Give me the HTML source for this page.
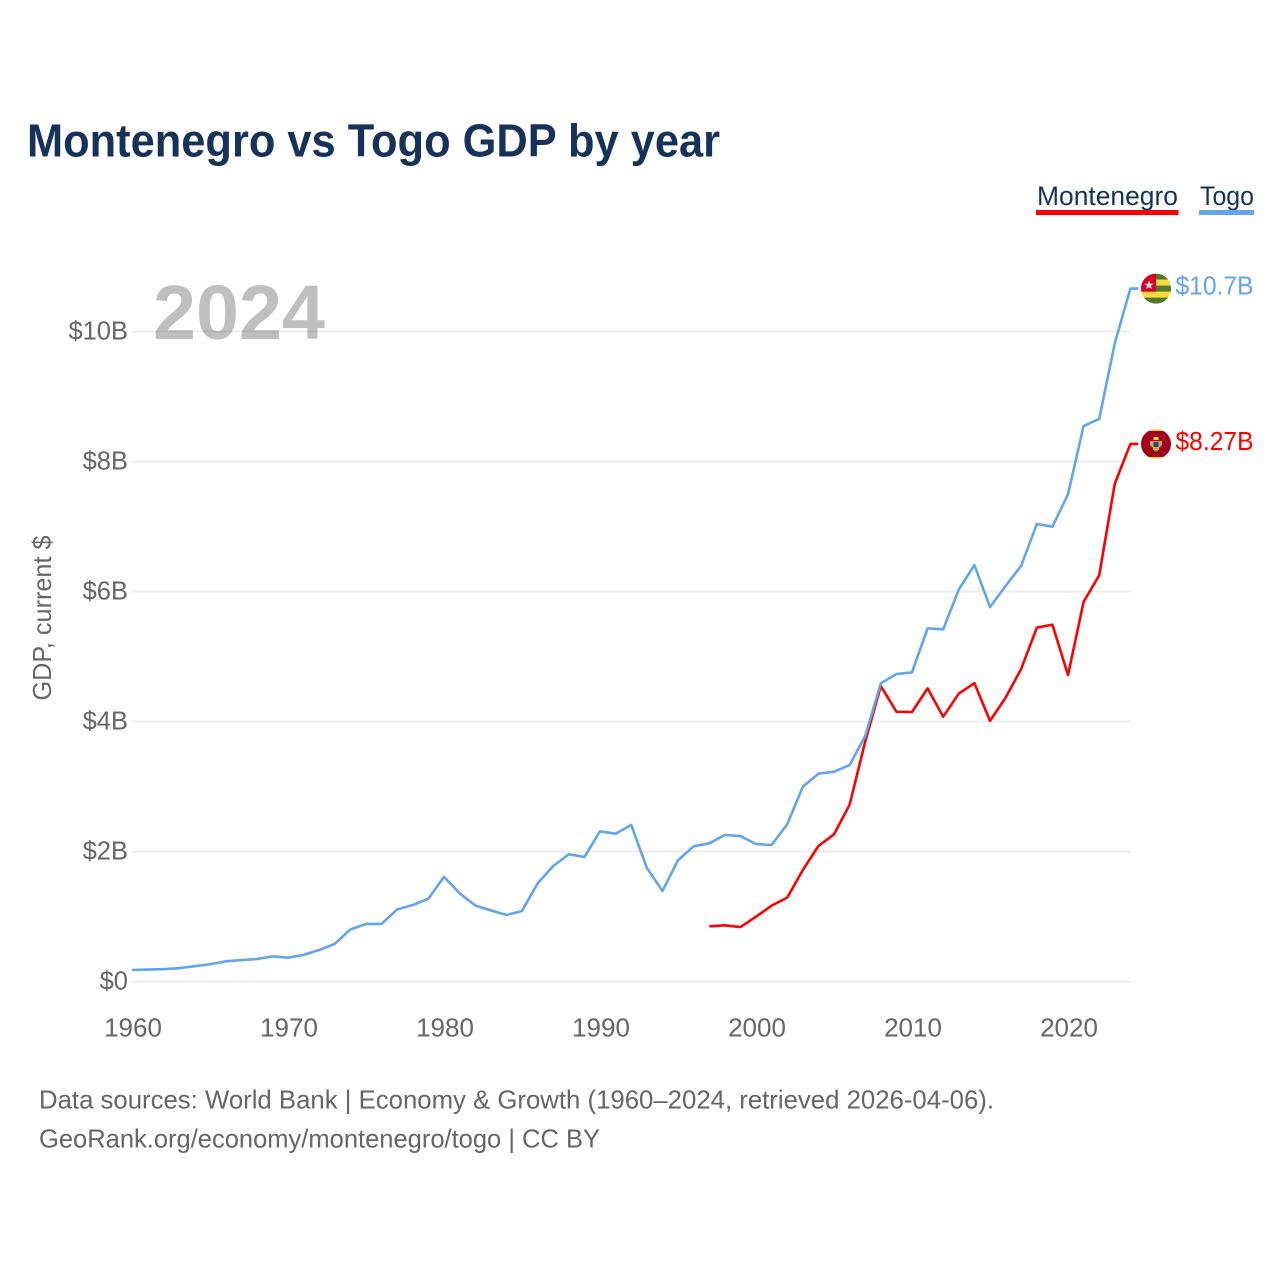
<!DOCTYPE html>
<html lang="en">
<head>
<meta charset="utf-8">
<title>Montenegro vs Togo GDP by year</title>
<style>
  html, body { margin: 0; padding: 0; background: #fff; }
  svg { display: block; }
  text { font-family: "Liberation Sans", sans-serif; }
</style>
</head>
<body>
<svg id="chart" xmlns="http://www.w3.org/2000/svg" width="1280" height="1280" viewBox="0 0 1280 1280">
  <defs>
    <clipPath id="flag-clip"><circle cx="0" cy="0" r="15"></circle></clipPath>
  </defs>
  <rect x="0" y="0" width="1280" height="1280" fill="#ffffff"></rect>

  <text x="27" y="156.5" font-size="46" font-weight="700" fill="#17325a" textLength="693" lengthAdjust="spacingAndGlyphs">Montenegro vs Togo GDP by year</text>

  <g>
    <g>
      <text x="1037" y="205" font-size="27" fill="#17325a" textLength="141" lengthAdjust="spacingAndGlyphs">Montenegro</text>
      <rect x="1036" y="210" width="142.5" height="5" fill="#ff0000"></rect>
    </g>
    <g>
      <text x="1200" y="205" font-size="27" fill="#17325a" textLength="54" lengthAdjust="spacingAndGlyphs">Togo</text>
      <rect x="1199" y="210" width="55" height="5" fill="#60a5ee"></rect>
    </g>
  </g>

  <g id="grid"></g>
  <g id="y-ticks"></g>
  <g id="x-ticks"></g>

  <text transform="translate(51,618) rotate(-90)" text-anchor="middle" font-size="26" fill="#666666" textLength="165" lengthAdjust="spacingAndGlyphs">GDP, current $</text>

  <text x="153" y="339" font-size="77" font-weight="700" fill="#000000" fill-opacity="0.25" textLength="172" lengthAdjust="spacingAndGlyphs">2024</text>

  <g id="series"></g>

  <g id="flag-togo">
    <g clip-path="url(#flag-clip)">
      <rect x="-15" y="-15" width="30" height="30" fill="#ffd83d"></rect>
      <rect x="-15" y="-15" width="30" height="6" fill="#4f7a28"></rect>
      <rect x="-15" y="-3" width="30" height="6" fill="#4f7a28"></rect>
      <rect x="-15" y="9" width="30" height="6" fill="#4f7a28"></rect>
      <rect x="-15" y="-15" width="15" height="18" fill="#d80027"></rect>
      <polygon points="-7,-8 -5.8,-4.8 -2.5,-4.8 -5.1,-2.8 -4.2,0.5 -7,-1.5 -9.8,0.5 -8.9,-2.8 -11.5,-4.8 -8.2,-4.8" fill="#f0f0f0"></polygon>
    </g>
  </g>

  <g id="flag-montenegro">
    <g clip-path="url(#flag-clip)">
      <rect x="-15" y="-15" width="30" height="30" fill="#ffda44"></rect>
      <rect x="-15" y="-13" width="30" height="26" fill="#a2001d"></rect>
      <rect x="-2.5" y="-7" width="5" height="3" fill="#ffda44"></rect>
      <polygon points="-6,-3 6,-3 6,1 3,4 3,6 -3,6 -3,4 -6,1" fill="#e8a81e"></polygon>
      <rect x="-2.5" y="-2" width="5" height="5" fill="#0052b4"></rect>
      <rect x="-2" y="6" width="4" height="1.5" fill="#6da544"></rect>
    </g>
  </g>

  <g id="end-labels"></g>

  <g>
    <text x="39" y="1108.5" font-size="26" fill="#666666" textLength="955" lengthAdjust="spacingAndGlyphs">Data sources: World Bank | Economy &amp; Growth (1960–2024, retrieved 2026-04-06).</text>
    <text x="39" y="1147.5" font-size="26" fill="#666666" textLength="561" lengthAdjust="spacingAndGlyphs">GeoRank.org/economy/montenegro/togo | CC BY</text>
  </g>
</svg>

<script>
// Chart data (values in billions of current US dollars)
const togoStartYear = 1960;
const montenegroStartYear = 1997;
const togoValues = [
  0.177, 0.183, 0.19, 0.205, 0.235, 0.265, 0.31, 0.33, 0.345, 0.387,
  0.366, 0.41, 0.484, 0.58, 0.80, 0.885, 0.885, 1.11, 1.177, 1.274,
  1.61, 1.357, 1.17, 1.095, 1.023, 1.085, 1.51, 1.777, 1.957, 1.915,
  2.31, 2.274, 2.408, 1.75, 1.392, 1.865, 2.08, 2.126, 2.254, 2.238,
  2.115, 2.1, 2.418, 2.997, 3.197, 3.228, 3.33, 3.777, 4.587, 4.73,
  4.756, 5.433, 5.418, 6.03, 6.407, 5.76, 6.085, 6.397, 7.038, 6.997,
  7.495, 8.546, 8.654, 9.82, 10.66
];
const montenegroValues = [
  0.849, 0.864, 0.838,
  0.997, 1.167, 1.29, 1.715, 2.085, 2.264, 2.72, 3.69, 4.546, 4.15,
  4.146, 4.51, 4.074, 4.43, 4.59, 4.01, 4.367, 4.81, 5.443, 5.49,
  4.715, 5.84, 6.25, 7.66, 8.27
];
const yTickValues = [0, 2, 4, 6, 8, 10];
const yTickLabels = ["$0", "$2B", "$4B", "$6B", "$8B", "$10B"];
const xTickValues = [1960, 1970, 1980, 1990, 2000, 2010, 2020];
const togoEndLabel = "$10.7B";
const montenegroEndLabel = "$8.27B";

// Axis functions
function xScale(year) { return 132 + (year - 1960) * 15.6; }
function yScale(value) { return 981.5 - value * 65; }

const NS = "http://www.w3.org/2000/svg";
function make(tag, parent, attrs, content) {
  const el = document.createElementNS(NS, tag);
  Object.keys(attrs).forEach(function (k) { el.setAttribute(k, attrs[k]); });
  if (content !== undefined) el.textContent = content;
  parent.appendChild(el);
  return el;
}

const gridLayer = document.getElementById("grid");
const yTickLayer = document.getElementById("y-ticks");
const xTickLayer = document.getElementById("x-ticks");
const seriesLayer = document.getElementById("series");
const endLabelLayer = document.getElementById("end-labels");

yTickValues.forEach(function (v, i) {
  const line = make("line", gridLayer, { x1: 132, x2: 1131, y1: yScale(v), y2: yScale(v), stroke: "#eeeeee", "stroke-width": 2 });
  
  
  const label = make("text", yTickLayer, { x: 128, y: yScale(v) + 8, "text-anchor": "end", "font-size": 25.5, fill: "#666666" }, yTickLabels[i]);
  
  
});

xTickValues.forEach(function (year) {
  const label = make("text", xTickLayer, { x: xScale(year) + 1, y: 1036.5, "text-anchor": "middle", "font-size": 26, fill: "#666666" }, String(year));
  
  
});

function linePoints(values, startYear) {
  const pts = values.map(function (v, i) {
    return xScale(startYear + i).toFixed(2) + "," + yScale(v).toFixed(2);
  });
  const lastY = yScale(values[values.length - 1]).toFixed(2);
  const lastX = xScale(startYear + values.length - 1);
  pts.push((lastX + 8).toFixed(2) + "," + lastY);
  return pts.join(" ");
}

const togoLine = make("polyline", seriesLayer, { points: linePoints(togoValues, togoStartYear), fill: "none", stroke: "#60a5ee", "stroke-width": 2.6, "stroke-linejoin": "round" });



const montenegroLine = make("polyline", seriesLayer, { points: linePoints(montenegroValues, montenegroStartYear), fill: "none", stroke: "#ff0000", "stroke-width": 2.6, "stroke-linejoin": "round" });


seriesLayer.appendChild(togoLine);

const togoLast = togoValues[togoValues.length - 1];
const montenegroLast = montenegroValues[montenegroValues.length - 1];

document.getElementById("flag-togo").setAttribute("transform", "translate(1156," + yScale(togoLast) + ")");
document.getElementById("flag-montenegro").setAttribute("transform", "translate(1156," + yScale(montenegroLast) + ")");

const togoValueLabel = make("text", endLabelLayer, { x: 1175.5, y: yScale(togoLast) + 6, "font-size": 26, fill: "#60a5ee", textLength: 78, lengthAdjust: "spacingAndGlyphs" }, togoEndLabel);



const montenegroValueLabel = make("text", endLabelLayer, { x: 1175.5, y: yScale(montenegroLast) + 6, "font-size": 26, fill: "#ff0000", textLength: 78, lengthAdjust: "spacingAndGlyphs" }, montenegroEndLabel);


</script>
</body>
</html>
